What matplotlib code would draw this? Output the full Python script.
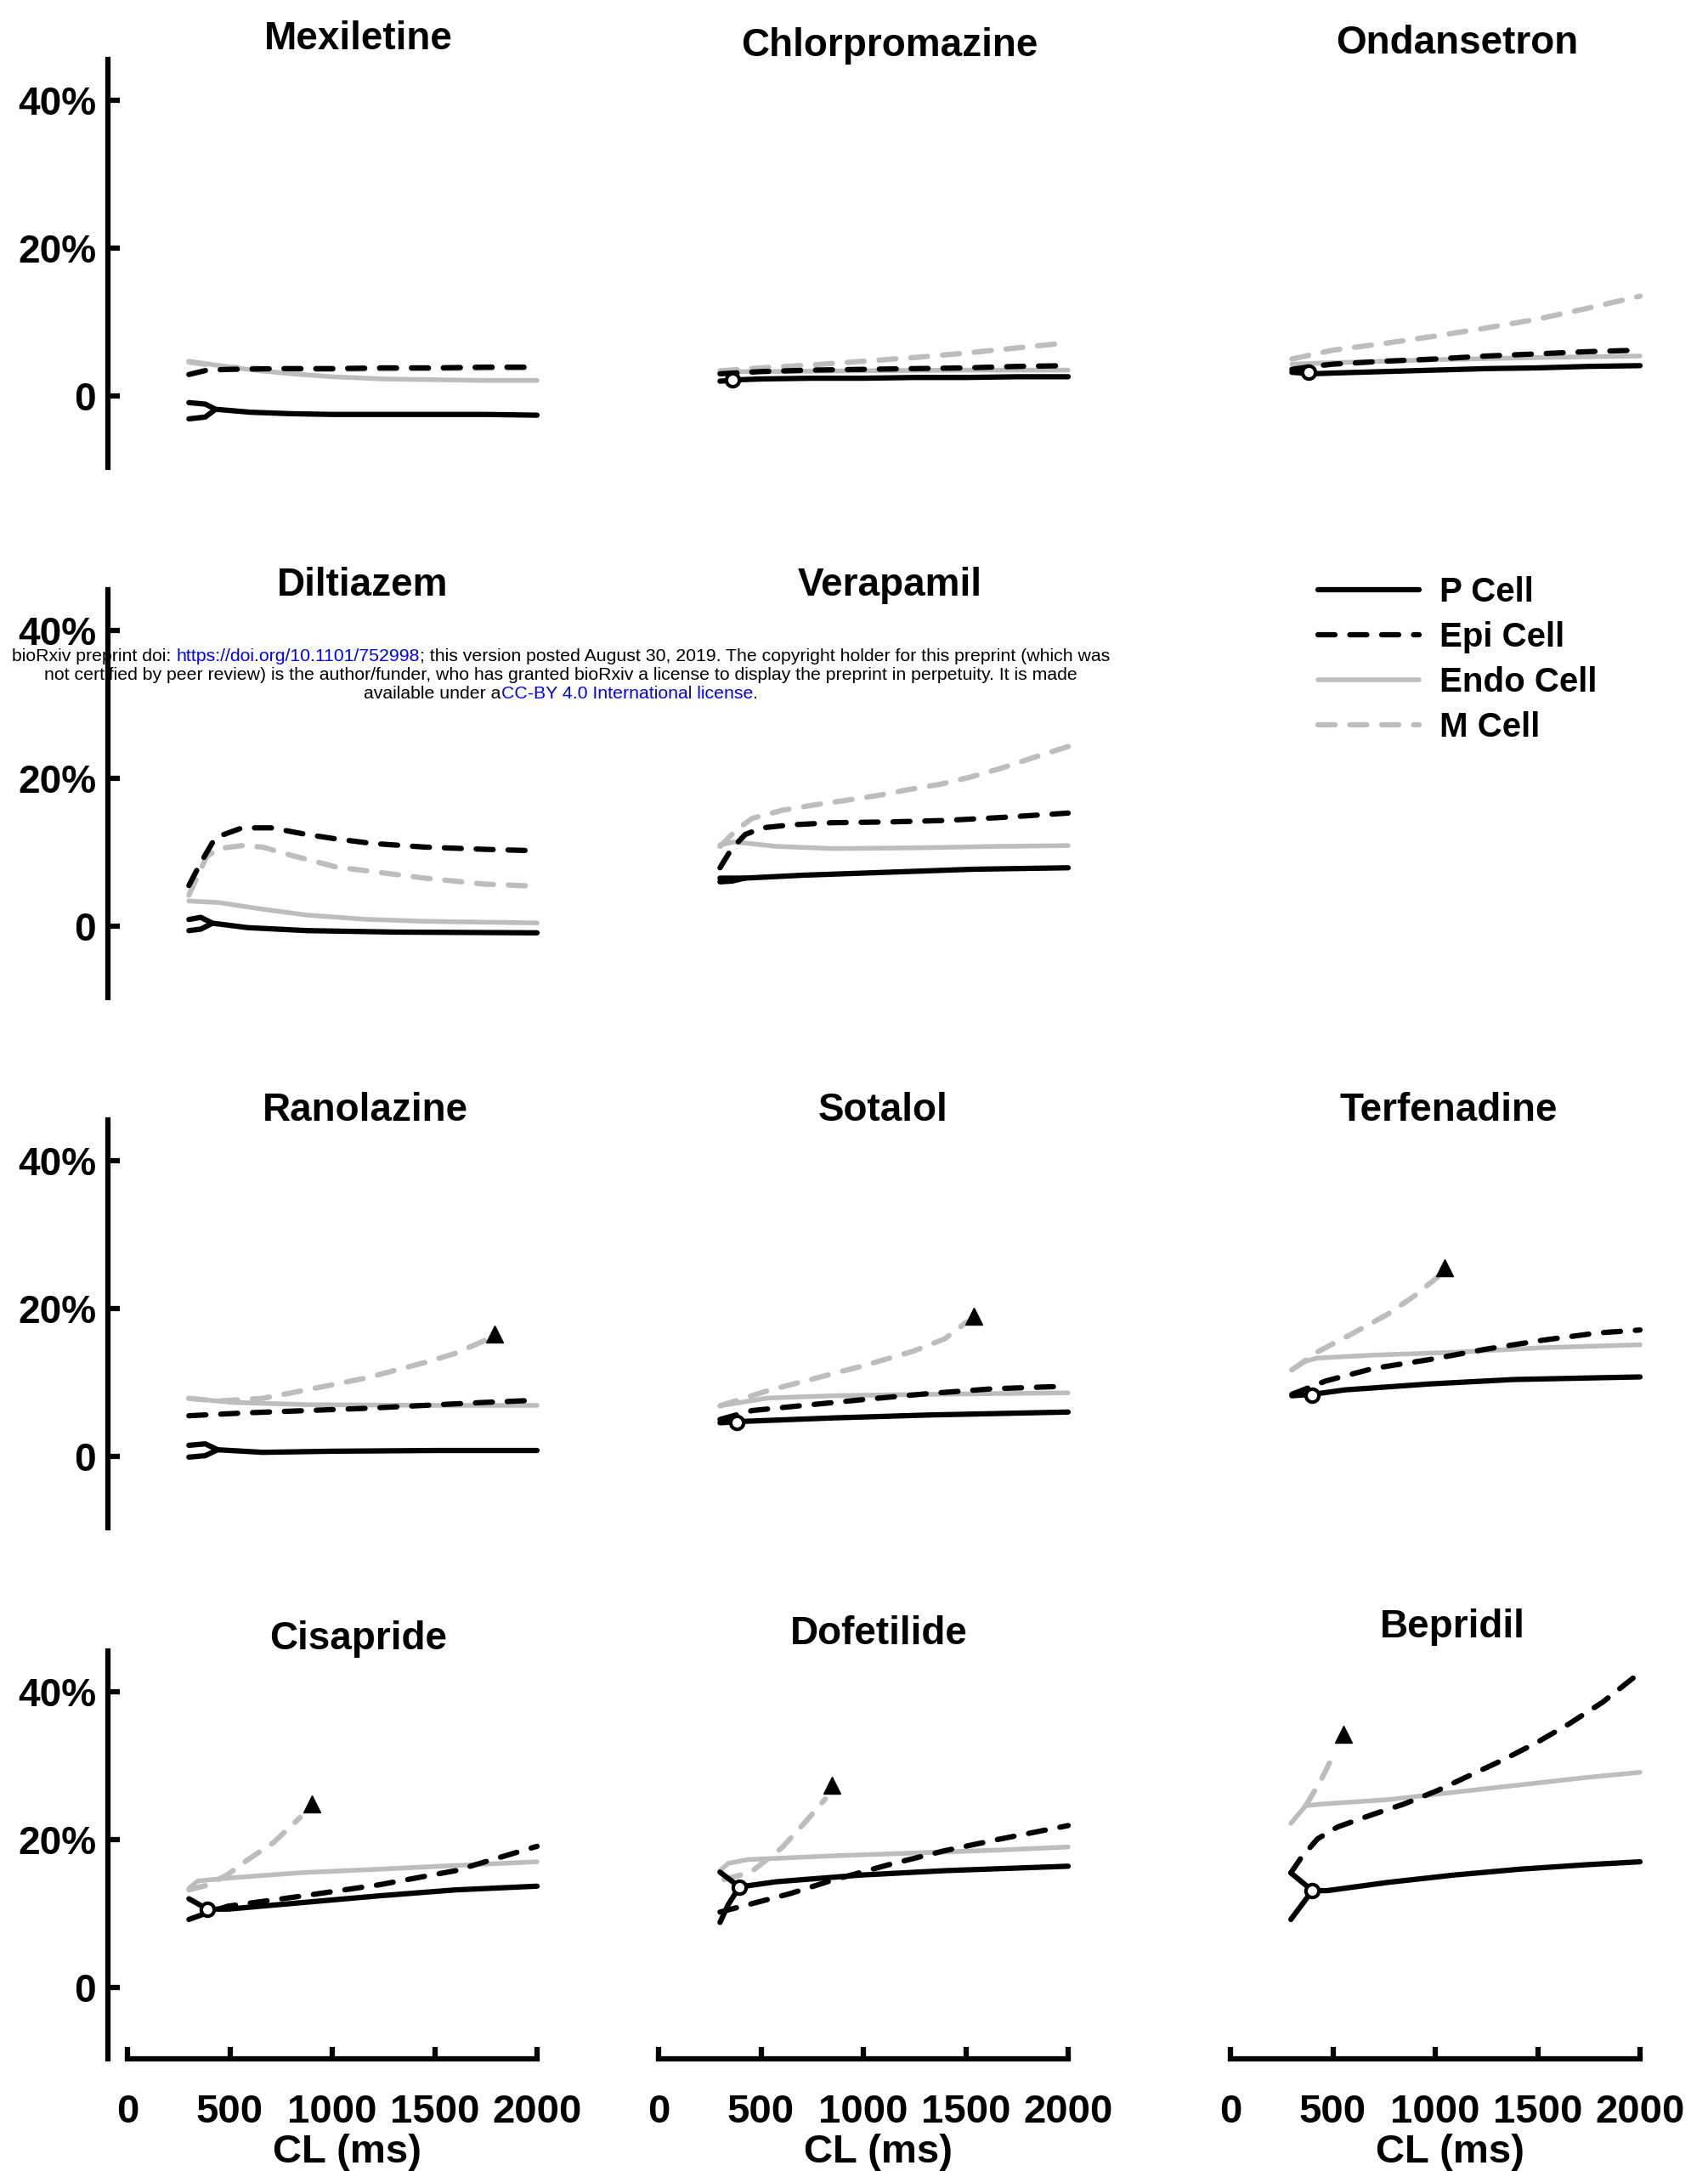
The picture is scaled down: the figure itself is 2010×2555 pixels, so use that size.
import matplotlib
matplotlib.use("Agg")
import matplotlib.pyplot as plt
from matplotlib.lines import Line2D

plt.rcParams['font.family'] = ['Liberation Sans', 'DejaVu Sans']
plt.rcParams['font.weight'] = 'bold'

# ------------------------------------------------------------------ data
# each series: (cycle length in ms, % change)
MEXILETINE = dict(
    p=([300, 380, 430, 600, 800, 1000, 1250, 1500, 1750, 2000],
       [-0.9, -1.1, -1.8, -2.2, -2.4, -2.5, -2.5, -2.5, -2.5, -2.6]),
    p_branch=([300, 380, 430], [-3.1, -2.85, -1.8]),
    epi=([300, 390, 500, 750, 1000, 1250, 1500, 1750, 2000],
         [2.9, 3.5, 3.6, 3.7, 3.7, 3.8, 3.8, 3.9, 3.9]),
    endo=([300, 500, 650, 800, 1000, 1250, 1500, 1750, 2000],
          [4.7, 3.9, 3.4, 3.0, 2.6, 2.3, 2.2, 2.1, 2.1]),
    m=([300, 400, 500, 750, 1000, 1500, 2000],
       [4.6, 4.2, 3.9, 3.6, 3.6, 3.7, 3.8]),
)
CHLORPROMAZINE = dict(
    p=([300, 400, 500, 750, 1000, 1250, 1500, 1750, 2000],
       [2.0, 2.2, 2.3, 2.4, 2.4, 2.5, 2.5, 2.6, 2.6]),
    loop=(360, 2.2),
    epi=([300, 500, 750, 1000, 1250, 1500, 1750, 2000],
         [3.0, 3.3, 3.5, 3.6, 3.7, 3.8, 4.0, 4.1]),
    endo=([300, 500, 1000, 1500, 2000], [3.3, 3.3, 3.4, 3.5, 3.5]),
    m=([300, 500, 750, 1000, 1250, 1500, 1750, 2000],
       [3.4, 3.8, 4.2, 4.7, 5.2, 5.8, 6.5, 7.2]),
)
ONDANSETRON = dict(
    p=([300, 400, 500, 750, 1000, 1250, 1500, 1750, 2000],
       [3.2, 3.0, 3.1, 3.3, 3.5, 3.7, 3.8, 4.0, 4.1]),
    loop=(380, 3.2),
    epi=([300, 400, 500, 750, 1000, 1250, 1500, 1750, 2000],
         [3.6, 4.0, 4.3, 4.7, 5.0, 5.4, 5.7, 6.0, 6.2]),
    endo=([300, 500, 750, 1000, 1500, 2000], [4.3, 4.5, 4.7, 4.9, 5.2, 5.4]),
    m=([300, 500, 750, 1000, 1250, 1500, 1750, 2000],
       [5.0, 6.2, 7.1, 8.1, 9.2, 10.4, 11.9, 13.5]),
)
DILTIAZEM = dict(
    p=([300, 358, 415, 588, 876, 1308, 2000],
       [0.9, 1.2, 0.4, -0.2, -0.6, -0.8, -0.9]),
    p_branch=([300, 358, 415], [-0.6, -0.4, 0.4]),
    epi=([300, 358, 430, 560, 703, 876, 1020, 1193, 1452, 1740, 2000],
         [5.5, 8.6, 12.0, 13.3, 13.3, 12.4, 11.8, 11.2, 10.7, 10.4, 10.2]),
    endo=([300, 444, 660, 876, 1164, 1452, 2000],
          [3.4, 3.2, 2.3, 1.5, 0.93, 0.66, 0.44]),
    m=([300, 386, 444, 560, 660, 804, 1020, 1236, 1452, 1740, 2000],
       [4.2, 9.4, 10.5, 10.9, 10.7, 9.55, 8.0, 7.25, 6.5, 5.7, 5.4]),
)
VERAPAMIL = dict(
    p=([300, 420, 711, 1123, 1534, 2000], [6.5, 6.5, 6.9, 7.3, 7.7, 7.9]),
    p_branch=([300, 360, 420], [6.0, 6.1, 6.5]),
    epi=([300, 355, 423, 506, 643, 848, 1123, 1397, 1671, 2000],
         [7.9, 10.4, 12.4, 13.3, 13.7, 14.0, 14.1, 14.3, 14.7, 15.3]),
    endo=([300, 369, 574, 848, 1260, 1671, 2000],
          [11.0, 11.4, 10.8, 10.5, 10.6, 10.8, 10.9]),
    m=([300, 380, 458, 608, 759, 910, 1075, 1226, 1376, 1527, 1678, 1829, 2000],
       [10.8, 13.0, 14.6, 15.7, 16.4, 17.0, 17.7, 18.5, 19.2, 20.2, 21.4, 22.8, 24.3]),
)
RANOLAZINE = dict(
    p=([300, 380, 440, 660, 1000, 1500, 2000], [1.5, 1.7, 0.9, 0.55, 0.7, 0.8, 0.8]),
    p_branch=([300, 380, 440], [-0.1, 0.1, 0.9]),
    epi=([300, 588, 876, 1164, 1452, 1740, 2000], [5.5, 5.9, 6.2, 6.5, 6.9, 7.3, 7.6]),
    endo=([300, 516, 876, 1452, 2000], [7.85, 7.3, 7.0, 6.9, 6.9]),
    m=([300, 444, 660, 876, 1164, 1452, 1597, 1755],
       [7.85, 7.5, 7.85, 9.0, 10.6, 12.7, 13.9, 15.8]),
    arrhythmia=(1791, 16.6),
)
SOTALOL = dict(
    p=([300, 425, 848, 1318, 2000], [4.55, 4.75, 5.2, 5.6, 6.0]),
    loop=(380, 4.6),
    epi=([300, 457, 692, 1005, 1318, 1632, 2000],
         [5.0, 6.2, 6.85, 7.7, 8.5, 9.15, 9.5]),
    endo=([300, 535, 848, 1318, 2000], [6.85, 7.9, 8.2, 8.4, 8.6]),
    m=([300, 535, 770, 1005, 1240, 1397, 1506],
       [6.85, 8.9, 10.6, 12.3, 14.2, 15.9, 18.2]),
    arrhythmia=(1540, 19.0),
)
TERFENADINE = dict(
    p=([300, 403, 560, 972, 1383, 2000], [8.2, 8.4, 9.0, 9.8, 10.4, 10.75]),
    loop=(400, 8.3),
    epi=([300, 465, 698, 972, 1246, 1520, 1794, 2000],
         [8.4, 10.2, 11.9, 13.1, 14.5, 15.7, 16.7, 17.1]),
    endo=([300, 369, 423, 698, 1109, 1520, 2000],
          [11.7, 12.9, 13.3, 13.7, 14.1, 14.7, 15.1]),
    m=([300, 423, 588, 766, 903, 1013], [11.7, 14.1, 16.5, 19.2, 21.8, 24.3]),
    arrhythmia=(1047, 25.5),
)
CISAPRIDE = dict(
    p=([300, 390, 491, 861, 1231, 1602, 2000], [12.0, 10.6, 10.6, 11.5, 12.4, 13.2, 13.7]),
    loop=(390, 10.6),
    epi=([300, 400, 491, 861, 1231, 1602, 2000], [9.2, 10.2, 11.0, 12.4, 13.9, 15.8, 19.1]),
    endo=([300, 343, 491, 861, 1231, 1602, 2000], [13.4, 14.4, 14.8, 15.55, 16.0, 16.5, 17.0]),
    m=([300, 398, 491, 583, 713, 843], [13.2, 13.9, 15.3, 17.2, 19.6, 23.0]),
    arrhythmia=(900, 24.8),
)
DOFETILIDE = dict(
    p=([300, 395, 574, 985, 1397, 2000], [15.6, 13.6, 14.3, 15.2, 15.8, 16.4]),
    p_branch=([300, 340, 395], [8.8, 11.2, 13.6]),
    loop=(395, 13.6),
    epi=([300, 437, 643, 848, 1123, 1397, 1671, 2000],
         [10.2, 11.2, 12.7, 14.5, 16.6, 18.5, 20.1, 21.9]),
    endo=([300, 341, 437, 848, 1260, 1671, 2000],
          [15.8, 16.8, 17.3, 17.8, 18.2, 18.6, 19.0]),
    m=([320, 451, 602, 711, 814], [14.6, 15.6, 18.9, 22.2, 25.5]),
    arrhythmia=(848, 27.3),
)
BEPRIDIL = dict(
    p=([295, 400, 473, 765, 1089, 1413, 1737, 2000],
       [15.5, 13.1, 13.1, 14.2, 15.2, 16.0, 16.6, 17.0]),
    p_branch=([295, 400], [9.2, 13.1]),
    loop=(400, 13.1),
    epi=([295, 344, 425, 522, 684, 846, 1008, 1170, 1332, 1494, 1656, 1818, 2000],
         [15.5, 17.5, 20.1, 21.7, 23.3, 24.8, 26.6, 28.7, 30.8, 33.1, 35.7, 38.6, 42.6]),
    endo=([295, 368, 441, 765, 1089, 1413, 1737, 2000],
          [22.2, 24.6, 24.8, 25.4, 26.4, 27.4, 28.4, 29.1]),
    m=([368, 441, 506], [24.6, 28.0, 31.6]),
    arrhythmia=(551, 34.2),
)

DRUGS = ["Mexiletine", "Chlorpromazine", "Ondansetron",
         "Diltiazem", "Verapamil", None,
         "Ranolazine", "Sotalol", "Terfenadine",
         "Cisapride", "Dofetilide", "Bepridil"]
DATA = {"Mexiletine": MEXILETINE, "Chlorpromazine": CHLORPROMAZINE,
        "Ondansetron": ONDANSETRON, "Diltiazem": DILTIAZEM,
        "Verapamil": VERAPAMIL, "Ranolazine": RANOLAZINE, "Sotalol": SOTALOL,
        "Terfenadine": TERFENADINE, "Cisapride": CISAPRIDE,
        "Dofetilide": DOFETILIDE, "Bepridil": BEPRIDIL}
CELL_LABELS = ["P Cell", "Epi Cell", "Endo Cell", "M Cell"]
Y_TICKS = [0, 20, 40]
Y_TICK_LABELS = ["0", "20%", "40%"]
X_TICKS = [0, 500, 1000, 1500, 2000]

# ------------------------------------------------------------------ layout
W, H, DPI = 2010, 2555, 100
PX_PER_CL = 0.241
X_LO, X_HI = -95, 2040
Y_LO, Y_HI = -9.7, 45.5
PX_PER_PCT = 8.7
COL_X0 = [150, 775, 1448]          # pixel of CL = 0
ROW_Y0 = [466, 1090, 1714, 2339]   # pixel of 0 %
TITLE_POS = {"Mexiletine": (422, 46), "Chlorpromazine": (1047, 54),
             "Ondansetron": (1715, 51), "Diltiazem": (427, 689),
             "Verapamil": (1047, 689), "Ranolazine": (430, 1307),
             "Sotalol": (1039, 1307), "Terfenadine": (1705, 1307),
             "Cisapride": (422, 1929), "Dofetilide": (1034, 1923),
             "Bepridil": (1709, 1915)}

BLACK = "#000000"
GREY = "#bdbdbd"
LW = 4.5
STYLE = {
    "p": dict(color=BLACK, lw=LW, ls="-", solid_capstyle="round"),
    "epi": dict(color=BLACK, lw=LW, ls=(0, (3.2, 2.8)), dash_capstyle="round"),
    "endo": dict(color=GREY, lw=4.0, ls="-", solid_capstyle="round"),
    "m": dict(color=GREY, lw=LW, ls=(0, (3.2, 2.8)), dash_capstyle="round"),
}

fig = plt.figure(figsize=(W / DPI, H / DPI), dpi=DPI)

for idx, name in enumerate(DRUGS):
    if name is None:
        continue
    row, col = divmod(idx, 3)
    left = COL_X0[col] + X_LO * PX_PER_CL
    width = (X_HI - X_LO) * PX_PER_CL
    top = ROW_Y0[row] - Y_HI * PX_PER_PCT
    height = (Y_HI - Y_LO) * PX_PER_PCT
    ax = fig.add_axes([left / W, 1 - (top + height) / H, width / W, height / H])
    ax.set_xlim(X_LO, X_HI)
    ax.set_ylim(Y_LO, Y_HI)
    ax.patch.set_visible(False)
    for s in ["top", "right"]:
        ax.spines[s].set_visible(False)
    for s in ["left", "bottom"]:
        ax.spines[s].set_linewidth(4.5)
    d = DATA[name]
    for key in ["endo", "m", "epi", "p"]:
        cl, v = d[key]
        ax.plot(cl, v, clip_on=False, **STYLE[key])
    if "p_branch" in d:
        cl, v = d["p_branch"]
        ax.plot(cl, v, clip_on=False, **STYLE["p"])
    if "loop" in d:
        cl, v = d["loop"]
        ax.plot([cl], [v], marker="o", ms=11, mfc="white", mec=BLACK, mew=3,
                clip_on=False, zorder=5)
    if "arrhythmia" in d:
        cl, v = d["arrhythmia"]
        ax.plot([cl], [v], marker="^", ms=15, color=BLACK, clip_on=False, zorder=5)

    if col == 0:
        ax.set_yticks(Y_TICKS)
        ax.set_yticklabels(Y_TICK_LABELS)
        ax.tick_params(axis="y", direction="in", length=10, width=4.5,
                       labelsize=33, pad=10)
    else:
        ax.spines["left"].set_visible(False)
        ax.set_yticks([])
    if row == 3:
        ax.spines["bottom"].set_bounds(0, 2000)
        ax.set_xticks(X_TICKS)
        ax.set_xticklabels([str(t) for t in X_TICKS])
        ax.tick_params(axis="x", direction="in", length=10, width=4.5,
                       labelsize=34, pad=29)
        ax.set_xlabel("CL (ms)", fontsize=34, fontweight="bold")
        ax.xaxis.set_label_coords((1074 - X_LO) / (X_HI - X_LO), -0.229)
        ax.xaxis.label.set_va("center")
    else:
        ax.spines["bottom"].set_visible(False)
        ax.set_xticks([])
    tx, ty = TITLE_POS[name]
    fig.text(tx / W, 1 - ty / H, name, ha="center", va="center",
             fontsize=33, fontweight="bold")

# legend
handles = [Line2D([], [], **STYLE[k]) for k in ["p", "epi", "endo", "m"]]
fig.legend(handles, CELL_LABELS, loc="upper left",
           bbox_to_anchor=(1551 / W, 1 - 678 / H), frameon=False,
           fontsize=29, handlelength=2.95, handletextpad=0.6,
           labelspacing=0.37, borderpad=0, borderaxespad=0)

# bioRxiv watermark
BLUE = "#0000ff"
WM_LINES = [
    [("bioRxiv preprint doi: ", BLACK), ("https://doi.org/10.1101/752998", BLUE),
     ("; this version posted August 30, 2019. The copyright holder for this preprint (which was", BLACK)],
    [("not certified by peer review) is the author/funder, who has granted bioRxiv a license to display the preprint in perpetuity. It is made", BLACK)],
    [("available under a", BLACK), ("CC-BY 4.0 International license", BLUE), (".", BLACK)],
]
WM_Y = [773, 795, 817]
WM_CENTER = 660
renderer = fig.canvas.get_renderer()


def wm_line(parts, y_px, fs):
    texts, widths = [], []
    for s, c in parts:
        t = fig.text(0, 1 - y_px / H, s, color=c, fontsize=fs, fontweight="normal",
                     ha="left", va="center", zorder=10)
        texts.append(t)
        widths.append(t.get_window_extent(renderer).width)
    x = WM_CENTER - sum(widths) / 2
    for t, w in zip(texts, widths):
        t.set_x(x / W)
        x += w
    return sum(widths)


# size font so that first line spans the reference width
probe = fig.text(0, 0, "".join(s for s, _ in WM_LINES[0]), fontsize=14,
                 fontweight="normal")
w14 = probe.get_window_extent(renderer).width
probe.remove()
WM_FS = 14 * 1303 / w14
for parts, y in zip(WM_LINES, WM_Y):
    wm_line(parts, y, WM_FS)

fig.savefig("out.png", dpi=DPI)
